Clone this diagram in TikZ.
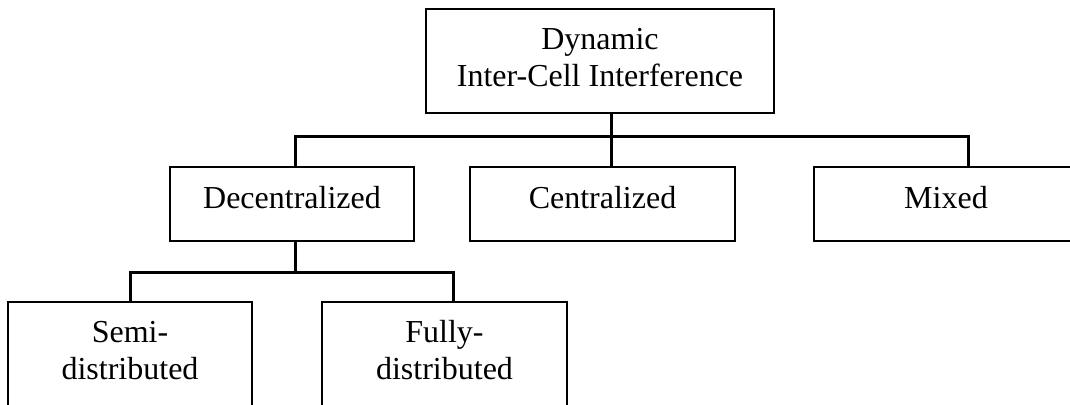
\documentclass[tikz,border=0pt]{standalone}
\usepackage{fontspec}
\setmainfont{Liberation Serif}
\begin{document}
\begin{tikzpicture}[x=1pt,y=-1pt,
  box/.style={draw=black,line width=1.6pt,rectangle,inner sep=0pt},
  lbl/.style={anchor=base,inner sep=0pt,font=\fontsize{32}{37}\selectfont},
  conn/.style={draw=black,line width=3pt}]
\useasboundingbox (0,0) rectangle (1070,404);
\clip (0,0) rectangle (1070,404);
% boxes
\node[box,minimum width=348pt,minimum height=104pt] (top) at (600,61) {};
\node[box,minimum width=244pt,minimum height=74pt] (dec) at (292,204) {};
\node[box,minimum width=265pt,minimum height=74pt] (cen) at (602.5,204) {};
\node[box,minimum width=308pt,minimum height=74pt] (mix) at (968,204) {};
\node[box,minimum width=244pt,minimum height=160pt] (semi) at (130,382) {};
\node[box,minimum width=245pt,minimum height=160pt] (fully) at (444.5,382) {};
% texts
\node[lbl] (t1) at (600,49) {Dynamic};
\node[lbl] (t2) at (600,86) {Inter-Cell Interference};
\node[lbl] (tdec) at (292,208) {Decentralized};
\node[lbl] (tcen) at (602.5,208) {Centralized};
\node[lbl] (tmix) at (946,208) {Mixed};
\node[lbl] (tsemi1) at (130,342) {Semi-};
\node[lbl] (tsemi2) at (130,379) {distributed};
\node[lbl] (tful1) at (444.5,342) {Fully-};
\node[lbl] (tful2) at (444.5,379) {distributed};
% junctions
\coordinate (j1) at (611,136);
\coordinate (j2) at (295,272);
% connectors
\draw[conn] (j1 |- top.south) -- (j1);
\draw[conn] ([xshift=3pt]dec.north) |- (j1) -| (mix.north);
\draw[conn] (j1) -- ([xshift=8.5pt]cen.north);
\draw[conn] (j2 |- dec.south) -- (j2);
\draw[conn] (semi.north) |- (j2) -| ([xshift=8.5pt]fully.north);
\end{tikzpicture}
\end{document}
